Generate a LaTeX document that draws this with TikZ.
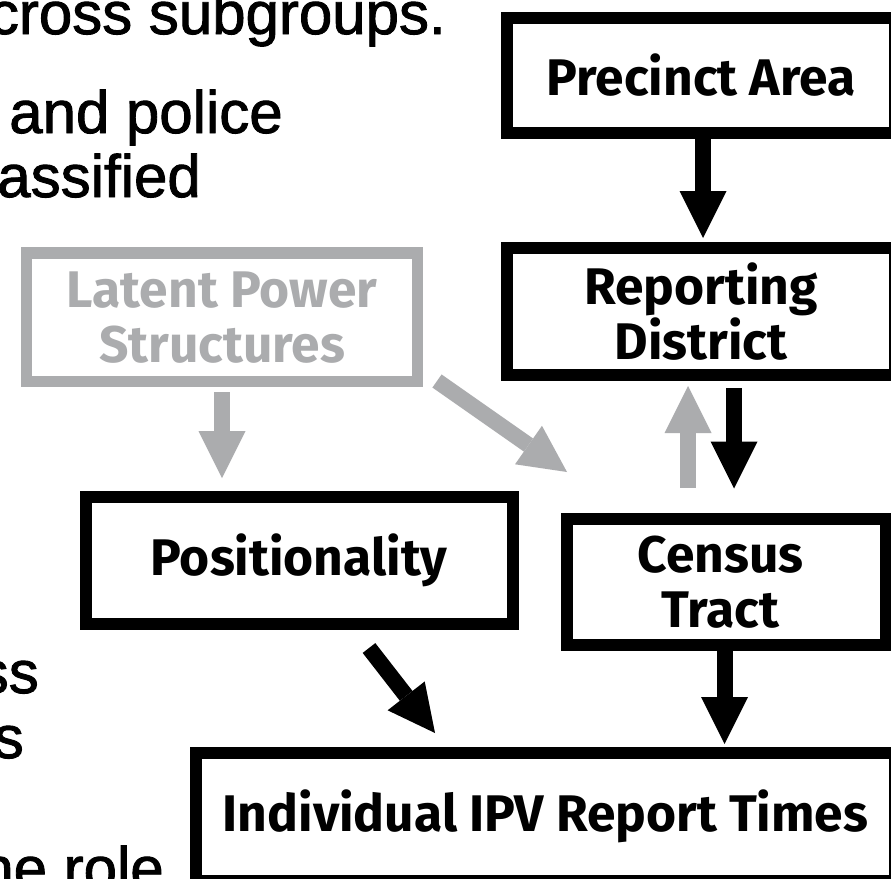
\documentclass[tikz,border=0pt]{standalone}
\usepackage{fontspec}
\setmainfont{Fira Sans}
\newfontfamily\slidefont{Liberation Sans}[FakeBold=1.5]
\usetikzlibrary{arrows.meta}
\definecolor{boxgray}{HTML}{ABACAE}
\newcommand\boxfont{\bfseries\fontsize{51.5}{55}\selectfont}
\tikzset{
  box/.style={draw=black, line width=12pt, rectangle, inner sep=0pt, align=center, font=\boxfont, text=black},
  graybox/.style={box, draw=boxgray, text=boxgray, line width=11.5pt},
  blockarrow/.style={line width=16pt, draw=black, -{Triangle[width=47pt,length=47pt,line width=0pt]}},
  grayarrow/.style={blockarrow, draw=boxgray},
  slidetext/.style={font=\slidefont\fontsize{60}{64}\selectfont, inner sep=0pt, anchor=base east}
}
\begin{document}
\begin{tikzpicture}[x=1pt,y=-1pt]
\useasboundingbox (0,0) rectangle (891,878);
\clip (0,0) rectangle (891,878);
\fill[white] (0,0) rectangle (891,878);
% cropped slide text
\node[slidetext] (t1) at (446,34) {cross subgroups.};
\node[slidetext] (t2) at (283,133) {and police};
\node[slidetext] (t3) at (201,197) {assified};
\node[slidetext] (t4) at (39,693) {ss};
\node[slidetext] (t5) at (24,758) {s};
\node[slidetext] (t6) at (164,889) {he role};
% boxes
\node[box, minimum width=388pt, minimum height=115pt] (precinct) at (701,75.5) {Precinct Area};
\node[box, minimum width=388pt, minimum height=127pt] (reporting) at (701,311.5) {Reporting\\District};
\node[box, minimum width=319pt, minimum height=126.5pt] (census) at (726.5,581.75) {\raisebox{-4pt}{Census}\hspace*{12pt}\\\raisebox{-4pt}{Tract}\hspace*{12pt}};
\node[box, minimum width=427pt, minimum height=127.5pt] (position) at (299,560.25) {\raisebox{-7pt}{Positionality}};
\node[graybox, minimum width=391pt, minimum height=128.5pt] (latent) at (222,317.25) {Latent Power\\Structures};
\node[box, minimum width=699pt, minimum height=128.5pt] (ipv) at (545.5,816.75) {Individual IPV Report Times};
% arrows
\draw[blockarrow, shorten >=4pt] ([xshift=2pt]precinct.south) -- ([xshift=2pt]reporting.north);
\draw[grayarrow, shorten <=25pt, shorten >=5pt] ([xshift=-38.5pt]census.north) -- ([xshift=-13pt]reporting.south);
\draw[blockarrow, shorten <=7pt, shorten >=24pt] ([xshift=33pt]reporting.south) -- ([xshift=7.5pt]census.north);
\draw[blockarrow, shorten >=2.5pt] ([xshift=-2pt]census.south) -- ([xshift=179pt]ipv.north);
\draw[grayarrow, shorten <=5pt, shorten >=12.5pt] (latent.south) -- ([xshift=-77pt]position.north);
\draw[grayarrow] ([shift={(13.75,-6.25)}]latent.south east) -- ([shift={(6,-40.5)}]census.north west);
\draw[blockarrow] ([shift={(70,18)}]position.south) -- ([shift={(-110.5,-13.5)}]ipv.north);
\end{tikzpicture}
\end{document}
